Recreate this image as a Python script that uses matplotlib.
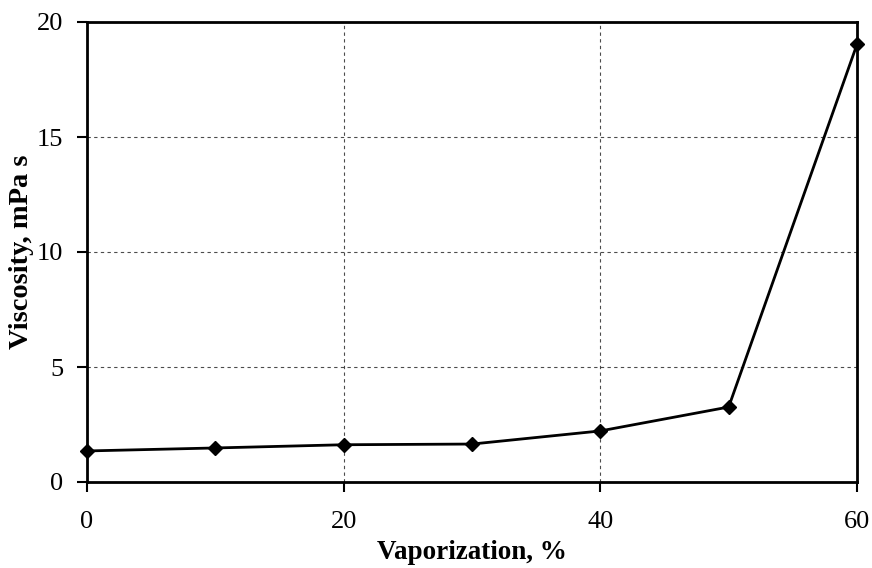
import matplotlib
matplotlib.use("Agg")
import matplotlib.pyplot as plt

# Viscosity vs. degree of vaporization
vaporization = [0, 10, 20, 30, 40, 50, 60]
viscosity = [1.35, 1.48, 1.62, 1.65, 2.22, 3.26, 19.03]

x_ticks = [0, 20, 40, 60]
y_ticks = [0, 5, 10, 15, 20]

plt.rcParams["font.family"] = ["Liberation Serif", "DejaVu Serif"]

fig = plt.figure(figsize=(8.72, 5.68), dpi=100)
ax = fig.add_axes([87 / 872, 86 / 568, 770 / 872, 460 / 568])

ax.plot(vaporization, viscosity, color="black", linewidth=2.0,
        marker="D", markersize=7, markerfacecolor="black",
        markeredgecolor="black", clip_on=False, zorder=3)

ax.set_xlim(0, 60)
ax.set_ylim(0, 20)
ax.set_xticks(x_ticks)
ax.set_yticks(y_ticks)
ax.tick_params(axis="both", direction="out", length=7, width=1.5,
               labelsize=19, colors="black")
ax.tick_params(axis="x", pad=14)
ax.tick_params(axis="y", pad=10)

ax.grid(True, color="black", linestyle=(0, (3, 3)), linewidth=0.8, alpha=0.7)
ax.set_axisbelow(True)
for side in ("left", "right", "top", "bottom"):
    ax.spines[side].set_linewidth(2.0)

ax.set_xlabel("Vaporization, %", fontsize=19.5, fontweight="bold", labelpad=5)
ax.set_ylabel("Viscosity, mPa s", fontsize=20.5, fontweight="bold", labelpad=2)

fig.savefig("out.png", dpi=100)
